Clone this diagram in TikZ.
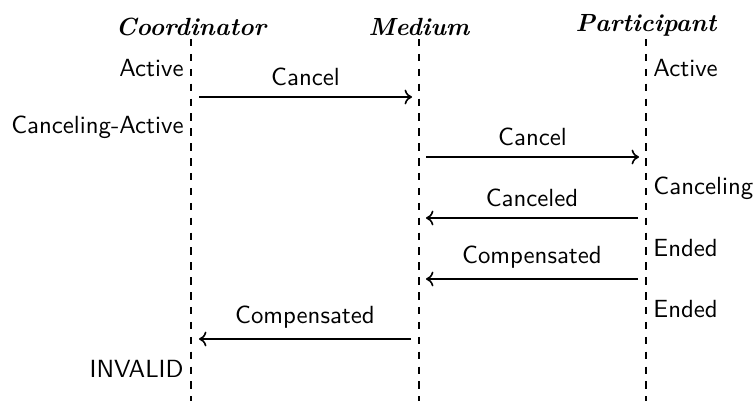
\documentclass[tikz,border=0pt]{standalone}
\usetikzlibrary{arrows.meta}
\begin{document}
\begin{tikzpicture}[x=0.403pt,y=-0.403pt,
  head/.style={anchor=south,inner sep=1pt,font=\bfseries\itshape},
  lifeline/.style={line width=0.65pt,dashed},
  msg/.style={line width=0.65pt,-{To[length=3pt,width=6pt]}},
  lbl/.style={font=\sffamily,inner sep=1pt},
  statel/.style={font=\sffamily,anchor=east,inner sep=0pt},
  stater/.style={font=\sffamily,anchor=west,inner sep=0pt}]
\useasboundingbox (0,0) rectangle (755,401);
% lifeline ends
\coordinate (ct) at (191,39); \coordinate (cb) at (191,401);
\coordinate (mt) at (419,39); \coordinate (mb) at (419,401);
\coordinate (pt) at (646,39); \coordinate (pb) at (646,401);
\node[head] (hc) at (ct) {Coordinator};
\node[head] (hm) at (mt) {Medium};
\node[head] (hp) at (pt) {Participant};
\draw[lifeline] (ct) -- (cb);
\draw[lifeline] (mt) -- (mb);
\draw[lifeline] (pt) -- (pb);
% states
\node[statel] (c1) at (184,68) {Active};
\node[statel] (c2) at (184,127) {Canceling-Active};
\node[statel] (c3) at (184,369) {INVALID};
\node[stater] (p1) at (653,68) {Active};
\node[stater] (p2) at (653,188) {Canceling};
\node[stater] (p3) at (653,248) {Ended};
\node[stater] (p4) at (653,309) {Ended};
% message endpoints
\coordinate (a1s) at (199,97); \coordinate (a1e) at (412,97);
\coordinate (a2s) at (426,157); \coordinate (a2e) at (639,157);
\coordinate (a3s) at (638,218); \coordinate (a3e) at (426,218);
\coordinate (a4s) at (638,279); \coordinate (a4e) at (426,279);
\coordinate (a5s) at (411,339); \coordinate (a5e) at (199,339);
\draw[msg] (a1s) -- node[lbl,above=3pt] (l1) {Cancel} (a1e);
\draw[msg] (a2s) -- node[lbl,above=3pt] (l2) {Cancel} (a2e);
\draw[msg] (a3s) -- node[lbl,above=3pt] (l3) {Canceled} (a3e);
\draw[msg] (a4s) -- node[lbl,above=3pt] (l4) {Compensated} (a4e);
\draw[msg] (a5s) -- node[lbl,above=3pt] (l5) {Compensated} (a5e);
\end{tikzpicture}
\end{document}
